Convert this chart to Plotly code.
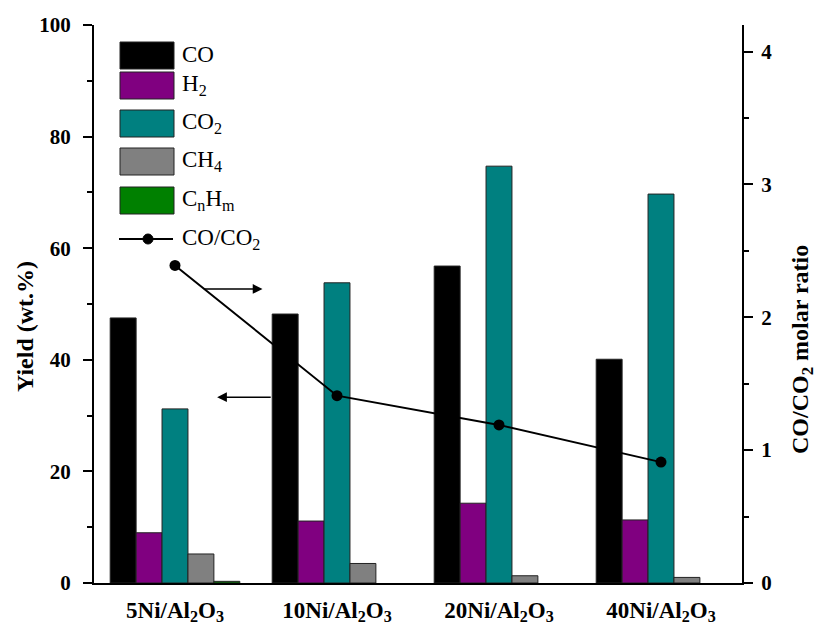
import plotly.graph_objects as go

# Catalysts (x categories)
catalysts = ["5Ni/Al<sub>2</sub>O<sub>3</sub>", "10Ni/Al<sub>2</sub>O<sub>3</sub>",
             "20Ni/Al<sub>2</sub>O<sub>3</sub>", "40Ni/Al<sub>2</sub>O<sub>3</sub>"]

# Product yields (wt.%); None = not detected
co_yield = [47.5, 48.2, 56.8, 40.1]
h2_yield = [9.0, 11.1, 14.3, 11.3]
co2_yield = [31.2, 53.8, 74.7, 69.7]
ch4_yield = [5.2, 3.5, 1.3, 1.0]
cnhm_yield = [0.3, None, None, None]

# CO/CO2 molar ratio (right axis)
co_co2_ratio = [2.39, 1.41, 1.19, 0.91]

series_names = ["CO", "H<sub>2</sub>", "CO<sub>2</sub>", "CH<sub>4</sub>", "C<sub>n</sub>H<sub>m</sub>"]
series_values = [co_yield, h2_yield, co2_yield, ch4_yield, cnhm_yield]
series_colors = ["#000000", "#800080", "#008080", "#808080", "#008000"]

FONT = "Liberation Serif"
W, H = 824, 630
L, R, T, B = 94, 82, 25, 47
PW, PH = W - L - R, H - T - B

xpos = list(range(len(catalysts)))

fig = go.Figure()
for name, vals, col in zip(series_names, series_values, series_colors):
    fig.add_trace(go.Bar(
        x=xpos, y=vals, name=name, marker_color=col,
        marker_line=dict(color="#222222", width=1),
        xaxis="x", yaxis="y", showlegend=False,
    ))

fig.add_trace(go.Scatter(
    x=xpos, y=co_co2_ratio, name="CO/CO<sub>2</sub>", mode="lines+markers",
    line=dict(color="black", width=2), marker=dict(size=11, color="black"),
    xaxis="x", yaxis="y2", showlegend=False,
))

axis_common = dict(linecolor="black", linewidth=2, showgrid=False, zeroline=False,
                   automargin=False)
tickfont = dict(family=FONT, size=21, color="black", weight="bold")
xtickfont = dict(family=FONT, size=23, color="black", weight="bold")
xrange = [-0.5, len(catalysts) - 0.5]
boundaries = [i - 0.5 for i in range(len(catalysts) + 1)]
halfsteps = [i * 0.5 - 0.5 for i in range(2 * len(catalysts) + 1)]

fig.update_layout(
    width=W, height=H,
    margin=dict(l=L, r=R, t=T, b=B),
    paper_bgcolor="white", plot_bgcolor="white",
    barmode="group", bargap=0.2, bargroupgap=0,
    xaxis=dict(range=xrange, tickvals=xpos, ticktext=[f"<b>{c}</b>" for c in catalysts],
               ticks="", showline=True, tickfont=xtickfont, ticklabelstandoff=5,
               anchor="y", **axis_common),
    xaxis2=dict(range=xrange, overlaying="x", side="bottom", anchor="y",
                tickvals=boundaries, ticks="outside", ticklen=8, tickwidth=2,
                tickcolor="black", showticklabels=False, showline=False,
                showgrid=False, zeroline=False, automargin=False),
    xaxis3=dict(range=xrange, overlaying="x", side="top", anchor="y",
                tickvals=halfsteps, ticks="inside", ticklen=8, tickwidth=2,
                tickcolor="black", showticklabels=False, showline=True,
                linecolor="black", linewidth=2, showgrid=False, zeroline=False,
                automargin=False),
    yaxis=dict(range=[0, 100], tickvals=[0, 20, 40, 60, 80, 100], ticks="outside",
               ticklen=9, tickwidth=2, tickcolor="black", showline=True,
               minor=dict(tickvals=[10, 30, 50, 70, 90], ticks="outside", ticklen=5,
                          tickwidth=2, tickcolor="black"),
               tickfont=tickfont, ticklabelstandoff=8,
               **axis_common),
    yaxis2=dict(range=[0, 4.2], tickvals=[0, 1, 2, 3, 4], overlaying="y", side="right",
                anchor="x", ticks="outside", ticklen=9, tickwidth=2, tickcolor="black",
                showline=True,
                minor=dict(tickvals=[0.5, 1.5, 2.5, 3.5], ticks="outside", ticklen=5,
                           tickwidth=2, tickcolor="black"),
                tickfont=tickfont, ticklabelstandoff=4,
                **axis_common),
)


def px_x(px):
    return (px - L) / PW


def px_y(py):
    return (H - B - py) / PH


# Axis titles
fig.add_annotation(x=px_x(25), y=px_y(327), xref="paper", yref="paper",
                   text="<b>Yield (wt.%)</b>", textangle=-90, showarrow=False,
                   xanchor="center", yanchor="middle",
                   font=dict(family=FONT, size=24, color="black"))
fig.add_annotation(x=px_x(802), y=px_y(350), xref="paper", yref="paper",
                   text="<b>CO/CO<sub>2</sub> molar ratio</b>", textangle=-90, showarrow=False,
                   xanchor="center", yanchor="middle",
                   font=dict(family=FONT, size=24, color="black"))

# Arrows pointing each series to its axis
fig.add_annotation(x=0.54, y=52.7, ax=0.17, ay=52.7, xref="x", yref="y", axref="x", ayref="y",
                   text="", showarrow=True, arrowhead=2, arrowsize=1.3, arrowwidth=1.5,
                   arrowcolor="black")
fig.add_annotation(x=0.26, y=33.3, ax=0.60, ay=33.3, xref="x", yref="y", axref="x", ayref="y",
                   text="", showarrow=True, arrowhead=2, arrowsize=1.3, arrowwidth=1.5,
                   arrowcolor="black")

# Hand-built legend
legend_tops = [42, 72, 110, 148, 187]
for name, col, top in zip(series_names, series_colors, legend_tops):
    fig.add_shape(type="rect", xref="paper", yref="paper",
                  x0=px_x(120), x1=px_x(174), y0=px_y(top + 27), y1=px_y(top),
                  fillcolor=col, line=dict(color="#222222", width=1))
    fig.add_annotation(x=px_x(180), y=px_y(top + 13), xref="paper", yref="paper",
                       text=name, showarrow=False, xanchor="left", yanchor="middle",
                       font=dict(family=FONT, size=23, color="black"))

fig.add_shape(type="line", xref="paper", yref="paper",
              x0=px_x(119), x1=px_x(173), y0=px_y(239), y1=px_y(239),
              line=dict(color="black", width=2))
fig.add_shape(type="circle", xref="paper", yref="paper",
              x0=px_x(143), x1=px_x(153), y0=px_y(244), y1=px_y(234),
              fillcolor="black", line=dict(color="black", width=1))
fig.add_annotation(x=px_x(180), y=px_y(239), xref="paper", yref="paper",
                   text="CO/CO<sub>2</sub>", showarrow=False, xanchor="left", yanchor="middle",
                   font=dict(family=FONT, size=23, color="black"))

fig.write_html("out.html")
